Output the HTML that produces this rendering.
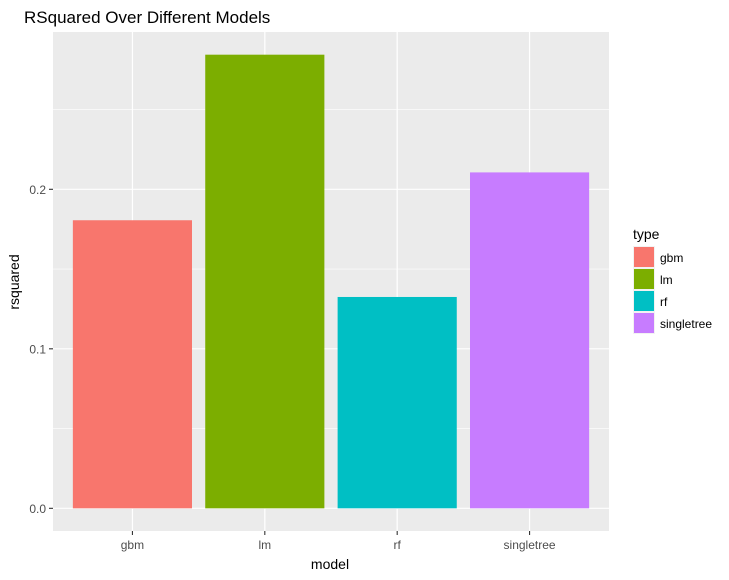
<!DOCTYPE html>
<html><head><meta charset="utf-8"><style>body{margin:0;background:#fff}text{font-family:"Liberation Sans",sans-serif}</style></head>
<body>
<svg id="c" width="729" height="575" xmlns="http://www.w3.org/2000/svg">
<rect x="0" y="0" width="729" height="575" fill="#fff"/>
<text x="24" y="23" font-size="17" fill="#000">RSquared Over Different Models</text>
<g id="panel"></g>
<text x="330" y="569" font-size="14" text-anchor="middle" fill="#000">model</text>
<text transform="translate(19,282) rotate(-90)" font-size="14" text-anchor="middle" fill="#000">rsquared</text>
<g id="legend">
<text x="633" y="239" font-size="14" fill="#000">type</text>
</g>
</svg>
<script>
const categories = ["gbm", "lm", "rf", "singletree"];
const values = [0.1806, 0.2844, 0.1325, 0.2106];
const colors = ["#F8766D", "#7CAE00", "#00BFC4", "#C77CFF"];
const yTicks = [0.0, 0.1, 0.2];
const yTickLabels = ["0.0", "0.1", "0.2"];
const NS = "http://www.w3.org/2000/svg";
const px0 = 53, px1 = 609, py0 = 32, py1 = 531;
const maxV = Math.max(...values), ymin = -0.05 * maxV, ymax = maxV * 1.05;
const y = v => py1 - (v - ymin) / (ymax - ymin) * (py1 - py0);
const band = (px1 - px0) / (categories.length + 0.2);
const x = i => px0 + band * (0.6 + i);
function mk(tag, attrs, parent) { const e = document.createElementNS(NS, tag); for (const k in attrs) e.setAttribute(k, attrs[k]); parent.appendChild(e); return e; }
const p = document.getElementById('panel');
const bg = mk('rect', {x: px0, y: py0, width: px1 - px0, height: py1 - py0, fill: '#EBEBEB'}, p);


for (let i = 0; i < yTicks.length - 1; i++) {
  const m = (yTicks[i] + yTicks[i + 1]) / 2;
  mk('line', {x1: px0, x2: px1, y1: y(m), y2: y(m), stroke: '#fff', 'stroke-width': 0.6}, p);
}
const lastMinor = yTicks[yTicks.length - 1] + 0.05;
if (lastMinor < ymax) mk('line', {x1: px0, x2: px1, y1: y(lastMinor), y2: y(lastMinor), stroke: '#fff', 'stroke-width': 0.6}, p);
yTicks.forEach((t, i) => {
  const gl = mk('line', {x1: px0, x2: px1, y1: y(t), y2: y(t), stroke: '#fff', 'stroke-width': 1.2}, p);
  
  
  mk('line', {x1: px0 - 4, x2: px0, y1: y(t), y2: y(t), stroke: '#333', 'stroke-width': 1.1}, p);
  const tl = mk('text', {x: px0 - 7, y: y(t) + 4.5, 'font-size': 12, 'text-anchor': 'end', fill: '#4D4D4D'}, p);
  tl.textContent = yTickLabels[i];
  
  
});
categories.forEach((c, i) => {
  mk('line', {x1: x(i), x2: x(i), y1: py0, y2: py1, stroke: '#fff', 'stroke-width': 1.2}, p);
});
categories.forEach((c, i) => {
  const w = band * 0.9;
  const b = mk('rect', {x: x(i) - w / 2, y: y(values[i]), width: w, height: y(0) - y(values[i]), fill: colors[i]}, p);
  
  
  mk('line', {x1: x(i), x2: x(i), y1: py1, y2: py1 + 4, stroke: '#333', 'stroke-width': 1.1}, p);
  const tl = mk('text', {x: x(i), y: py1 + 18, 'font-size': 12, 'text-anchor': 'middle', fill: '#4D4D4D'}, p);
  tl.textContent = c;
  
  
});
const lg = document.getElementById('legend');
categories.forEach((c, i) => {
  const yy = 246 + i * 22;
  mk('rect', {x: 633, y: yy, width: 22, height: 22, fill: '#F2F2F2'}, lg);
  const k = mk('rect', {x: 634, y: yy + 1, width: 20, height: 20, fill: colors[i]}, lg);
  
  
  const t = mk('text', {x: 660, y: yy + 16, 'font-size': 12, fill: '#000'}, lg);
  t.textContent = c;
  
  
});
</script>
</body></html>
